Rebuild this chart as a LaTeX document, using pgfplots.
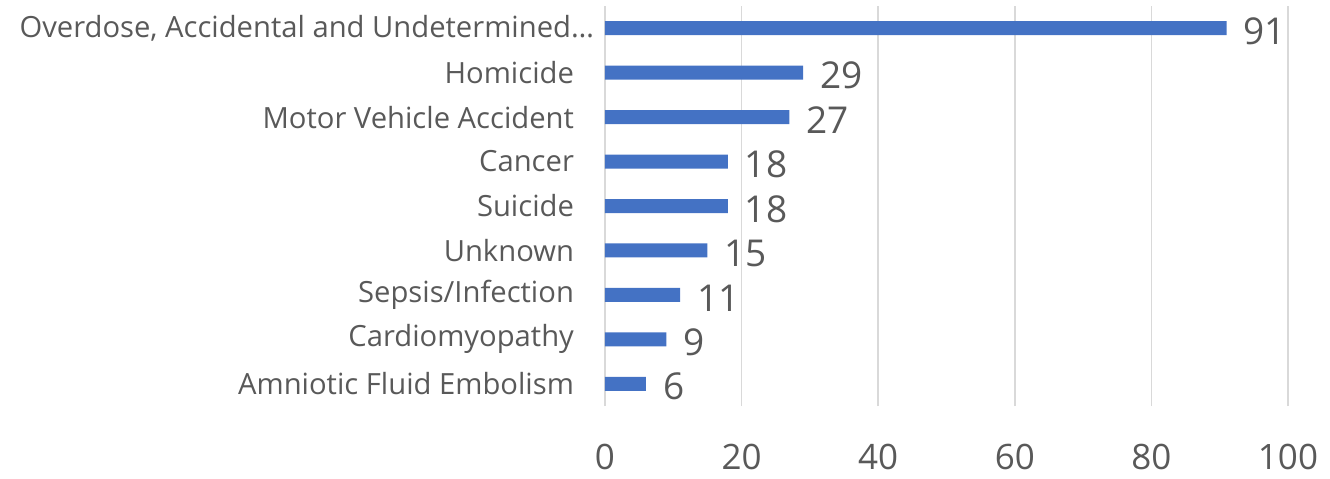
\documentclass[border=0pt]{standalone}
\usepackage{pgfplots}
\pgfplotsset{compat=1.18}
\usepackage{fontspec}
\setmainfont{Open Sans}
\definecolor{txt}{HTML}{595959}
\definecolor{bar}{HTML}{4472C4}
\definecolor{grd}{HTML}{D9D9D9}
\begin{document}
\begin{tikzpicture}
\path[use as bounding box] (-302.5pt,-36pt) rectangle (362.5pt,203pt);
\begin{axis}[
  at={(0,0)}, anchor=south west,
  scale only axis, width=341.5pt, height=200pt,
  xbar, bar width=7pt,
  xmin=0, xmax=100, ymin=-0.5, ymax=8.5,
  xtick={0,20,40,60,80,100},
  ytick={0,1,2,3,4,5,6,7,8},
  yticklabels={Amniotic Fluid Embolism,Cardiomyopathy,Sepsis/Infection,Unknown,Suicide,Cancer,Motor Vehicle Accident,Homicide,{Overdose, Accidental and Undetermined\ldots\hspace*{-10pt}}},
  axis line style={draw=none},
  major tick length=0pt,
  xmajorgrids, grid style={grd, line width=0.8pt},
  /pgf/number format/assume math mode=true,
  xticklabel style={font=\fontsize{17.5}{19}\selectfont, text=txt, inner sep=0pt, yshift=-19pt},
  yticklabel style={font=\fontsize{14.6}{16}\selectfont, text=txt, xshift=-12pt},
  nodes near coords,
  every node near coord/.append style={font=\fontsize{18.5}{20}\selectfont, text=txt, anchor=west, xshift=5pt, yshift=-1.5pt},
]
\addplot[fill=bar, draw=none] coordinates {
  (6,0) (9,1) (11,2) (15,3) (18,4) (18,5) (27,6) (29,7) (91,8)
};
\end{axis}
\end{tikzpicture}
\end{document}
